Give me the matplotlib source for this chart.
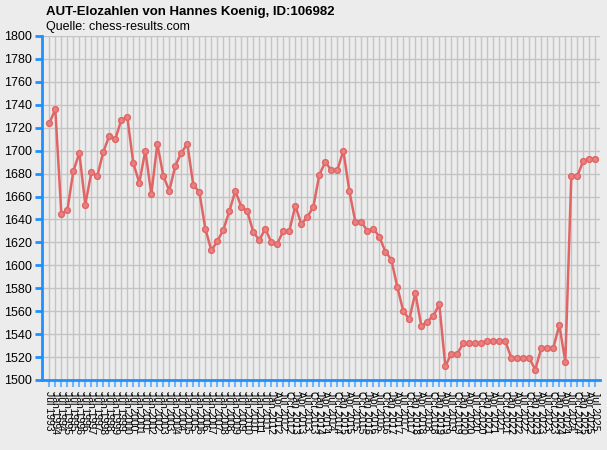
import matplotlib
matplotlib.use("Agg")
import numpy as np
import matplotlib.pyplot as plt

plt.rcParams['font.family'] = ['Liberation Sans', 'DejaVu Sans']

# Elo-Werte (Jul 1993 - Jul 2011 halbjaehrlich, ab Jan 2012 quartalsweise)
elo = [1724, 1736, 1645, 1648, 1682, 1698, 1653, 1681, 1678, 1699,
       1713, 1710, 1727, 1729, 1689, 1672, 1700, 1662, 1706, 1678,
       1665, 1687, 1698, 1706, 1670, 1664, 1632, 1613, 1621, 1631,
       1647, 1665, 1651, 1647, 1629, 1622, 1632, 1620, 1619, 1630,
       1630, 1652, 1636, 1642, 1651, 1679, 1690, 1683, 1683, 1700,
       1665, 1638, 1638, 1630, 1632, 1625, 1612, 1605, 1581, 1560,
       1553, 1576, 1547, 1551, 1556, 1566, 1512, 1523, 1523, 1532,
       1532, 1532, 1532, 1534, 1534, 1534, 1534, 1519, 1519, 1519,
       1519, 1509, 1528, 1528, 1528, 1548, 1516, 1678, 1678, 1691,
       1693, 1693]

labels = []
for year in range(1993, 2012):
    if year > 1993:
        labels.append("Jan %d" % year)
    labels.append("Jul %d" % year)
for year in range(2012, 2026):
    for m in ["Jan", "Apr", "Jul", "Oct"]:
        if year == 2025 and m == "Oct":
            break
        labels.append("%s %d" % (m, year))

bg = "#ececec"
blue = "#1e90ff"

fig = plt.figure(figsize=(6.07, 4.5), dpi=100, facecolor=bg)
ax = fig.add_axes([42 / 607, 1 - 380 / 450, 558 / 607, 344 / 450], facecolor=bg)

x = np.arange(len(elo))
ax.plot(x, elo, color="#e06666", lw=1.8, marker="o", ms=4.2,
        mfc="#e88080", mec="#e06666", mew=1, zorder=3)

ax.set_xlim(-1.22, len(elo) - 1 + 0.78)
ax.set_ylim(1500, 1800)
ax.set_yticks(np.arange(1500, 1801, 20))
ax.set_xticks(x)
ax.set_xticklabels(labels, rotation=-90, fontsize=7.5)
ax.tick_params(axis="y", labelsize=9, color=blue, length=5, width=2, pad=2)
ax.tick_params(axis="x", color="#6fb4ff", length=5, width=1.5, pad=3)

ax.grid(True, color="#c4c4c4", lw=1)
ax.set_axisbelow(True)
for s in ["top", "right"]:
    ax.spines[s].set_visible(False)
for s in ["left", "bottom"]:
    ax.spines[s].set_color(blue)
    ax.spines[s].set_linewidth(2)

fig.text(46 / 607, 1 - 12 / 450, "AUT-Elozahlen von Hannes Koenig, ID:106982",
         fontsize=9.5, fontweight="bold", va="center", ha="left")
fig.text(46 / 607, 1 - 27 / 450, "Quelle: chess-results.com",
         fontsize=9, va="center", ha="left")

fig.savefig("out.png", dpi=100, facecolor=bg)
